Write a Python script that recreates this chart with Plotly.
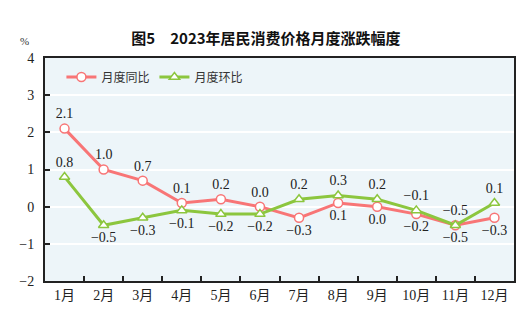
import plotly.graph_objects as go

months = ["1月", "2月", "3月", "4月", "5月", "6月", "7月", "8月", "9月", "10月", "11月", "12月"]
yoy = [2.1, 1.0, 0.7, 0.1, 0.2, 0.0, -0.3, 0.1, 0.0, -0.2, -0.5, -0.3]
mom = [0.8, -0.5, -0.3, -0.1, -0.2, -0.2, 0.2, 0.3, 0.2, -0.1, -0.5, 0.1]
yoy_pos = ["top center"] * 6 + ["bottom center"] * 6
mom_pos = ["top center"] + ["bottom center"] * 5 + ["top center"] * 6

red = "#F87576"
green = "#8CC63E"
numfont = dict(family="Liberation Serif, Noto Sans CJK SC", size=14, color="#222")


def fmt(v):
    return f"{v:.1f}".replace("-", "−")


fig = go.Figure()
fig.add_trace(go.Scatter(
    x=months, y=yoy, name="月度同比", mode="lines+markers+text",
    line=dict(color=red, width=3),
    marker=dict(symbol="circle", size=9, color="white", line=dict(color=red, width=1.5)),
    text=[fmt(v) for v in yoy], textposition=yoy_pos, textfont=numfont,
))
fig.add_trace(go.Scatter(
    x=months, y=mom, name="月度环比", mode="lines+markers+text",
    line=dict(color=green, width=3),
    marker=dict(symbol="triangle-up", size=9, color="white", line=dict(color=green, width=1.5)),
    text=[fmt(v) for v in mom], textposition=mom_pos, textfont=numfont,
))

fig.update_layout(
    width=532, height=327,
    margin=dict(l=45, r=18, t=58, b=46),
    paper_bgcolor="white", plot_bgcolor="#EDF5F9",
    font=dict(family="Liberation Serif, Noto Sans CJK SC", size=14, color="#222"),
    title=dict(text="<b>图5　2023年居民消费价格月度涨跌幅度</b>", x=0.5, xanchor="center",
               y=0.88, yanchor="middle",
               font=dict(family="Noto Sans CJK SC", size=15, color="#111")),
    showlegend=True,
    legend=dict(orientation="h", x=0.035, y=0.98, xanchor="left", yanchor="top",
                bgcolor="rgba(0,0,0,0)", font=dict(family="Noto Sans CJK SC", size=12, color="#333")),
    xaxis=dict(type="category", tickson="boundaries", ticks="inside", ticklen=5,
               tickcolor="#222", tickwidth=1.5, showgrid=False, showline=True,
               linecolor="#222", linewidth=2, mirror=True, range=[-0.5, 11.5],
               tickfont=dict(size=14)),
    yaxis=dict(range=[-2, 4], dtick=1, ticks="inside", ticklen=5, tickcolor="#222",
               tickwidth=1.5, showgrid=True, gridcolor="white", gridwidth=1.5,
               showline=True, linecolor="#222", linewidth=2, mirror=True,
               zeroline=False, tickfont=dict(size=14), ticklabelstandoff=6),
    annotations=[dict(text="%", xref="paper", yref="paper", x=-0.03, y=1.04,
                      xanchor="right", yanchor="bottom", showarrow=False,
                      font=dict(size=11, color="#333"))],
)

fig.write_html("out.html")
